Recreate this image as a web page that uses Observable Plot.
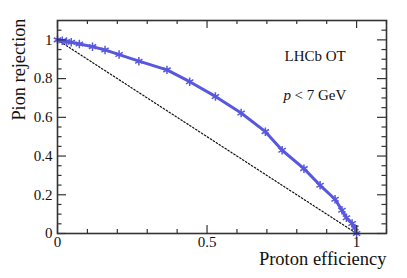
<!DOCTYPE html>
<html>
<head>
<meta charset="utf-8">
<script src="https://cdn.jsdelivr.net/npm/d3@7"></script>
<script src="https://cdn.jsdelivr.net/npm/@observablehq/plot@0.6"></script>
<style>
  html, body { margin: 0; padding: 0; background: #fff; }
</style>
</head>
<body>
<div id="chart"></div>
<script>
const protonEff = [0, 0.016, 0.030, 0.046, 0.073, 0.117, 0.159, 0.206, 0.272, 0.366, 0.442, 0.528, 0.614, 0.695, 0.751, 0.824, 0.878, 0.928, 0.951, 0.966, 0.985, 0.994, 1.0];
const pionRej  = [1.0, 0.995, 0.991, 0.988, 0.979, 0.965, 0.948, 0.924, 0.890, 0.845, 0.784, 0.708, 0.622, 0.526, 0.430, 0.335, 0.249, 0.177, 0.120, 0.081, 0.052, 0.029, 0.0];
const diagX = [0, 1];
const diagY = [1, 0];
const xMajor = [0, 0.5, 1];
const xMinor = [0.1, 0.2, 0.3, 0.4, 0.6, 0.7, 0.8, 0.9, 1.1];
const yMajor = [0, 0.2, 0.4, 0.6, 0.8, 1];
const yMinor = [0.05, 0.1, 0.15, 0.25, 0.3, 0.35, 0.45, 0.5, 0.55, 0.65, 0.7, 0.75, 0.85, 0.9, 0.95, 1.05];
const xLabel = "Proton efficiency";
const yLabel = "Pion rejection";
const title1 = "LHCb OT";

const curve = protonEff.map((x, i) => ({x, y: pionRej[i]}));
const diag = diagX.map((x, i) => ({x, y: diagY[i]}));

const W = 407, H = 278, mL = 57, mR = 21, mT = 20, mB = 45;
const fw = W - mL - mR, fh = H - mT - mB;
const serif = "'Liberation Serif', 'Times New Roman', serif";
const col = "#5858df";
const axisCol = "#333";

const fmt = d => d === 0 ? "0" : d === 1 ? "1" : String(d);

const chart = Plot.plot({
  width: W, height: H,
  marginLeft: mL, marginRight: mR, marginTop: mT, marginBottom: mB,
  style: {fontFamily: serif, fontSize: "15px", color: "#111", background: "#fff"},
  x: {domain: [0, 1.1], axis: null},
  y: {domain: [0, 1.1], axis: null},
  marks: [
    Plot.line(diag, {x: "x", y: "y", stroke: "#111", strokeWidth: 1.2, strokeDasharray: "1.5,2"}),
    Plot.line(curve, {x: "x", y: "y", stroke: col, strokeWidth: 3}),
    Plot.dot(curve, {x: "x", y: "y", symbol: "asterisk", r: 4, stroke: col, strokeWidth: 1.5}),
    Plot.ruleX(xMajor, {x: d => d, insetTop: fh - 8, stroke: axisCol, strokeWidth: 1.2}),
    Plot.ruleX(xMinor, {x: d => d, insetTop: fh - 4, stroke: axisCol, strokeWidth: 1.2}),
    Plot.ruleX(xMajor, {x: d => d, insetBottom: fh - 8, stroke: axisCol, strokeWidth: 1.2}),
    Plot.ruleX(xMinor, {x: d => d, insetBottom: fh - 4, stroke: axisCol, strokeWidth: 1.2}),
    Plot.ruleY(yMajor, {y: d => d, insetRight: fw - 9, stroke: axisCol, strokeWidth: 1.2}),
    Plot.ruleY(yMinor, {y: d => d, insetRight: fw - 4.5, stroke: axisCol, strokeWidth: 1.2}),
    Plot.ruleY(yMajor, {y: d => d, insetLeft: fw - 9, stroke: axisCol, strokeWidth: 1.2}),
    Plot.ruleY(yMinor, {y: d => d, insetLeft: fw - 4.5, stroke: axisCol, strokeWidth: 1.2}),
    Plot.frame({stroke: axisCol, strokeWidth: 1.6}),
    Plot.axisX({ticks: xMajor, tickSize: 0, tickPadding: 3, tickFormat: fmt, label: null, fontSize: 15, fill: "#111"}),
    Plot.axisY({ticks: yMajor, tickSize: 0, tickPadding: 5, tickFormat: fmt, label: null, fontSize: 15, fill: "#111"}),
    Plot.text([xLabel], {frameAnchor: "bottom-right", text: d => d, textAnchor: "end", dx: 0, dy: 31, fontSize: 18.5, fill: "#111"}),
    Plot.text([yLabel], {frameAnchor: "top-left", text: d => d, rotate: -90, textAnchor: "end", dx: -46, dy: -2, fontSize: 18.3, fill: "#111"}),
    Plot.text([title1], {frameAnchor: "top-left", text: d => d, textAnchor: "start", dx: 227, dy: 30, fontSize: 15, fill: "#111"}),
    Plot.text(["p"], {frameAnchor: "top-left", text: d => d, textAnchor: "start", dx: 226, dy: 69, fontSize: 15, fontStyle: "italic", fill: "#111"}),
    Plot.text(["< 7 GeV"], {frameAnchor: "top-left", text: d => d, textAnchor: "start", dx: 237, dy: 69, fontSize: 15, fill: "#111"})
  ]
});
document.getElementById("chart").appendChild(chart);
</script>
</body>
</html>
